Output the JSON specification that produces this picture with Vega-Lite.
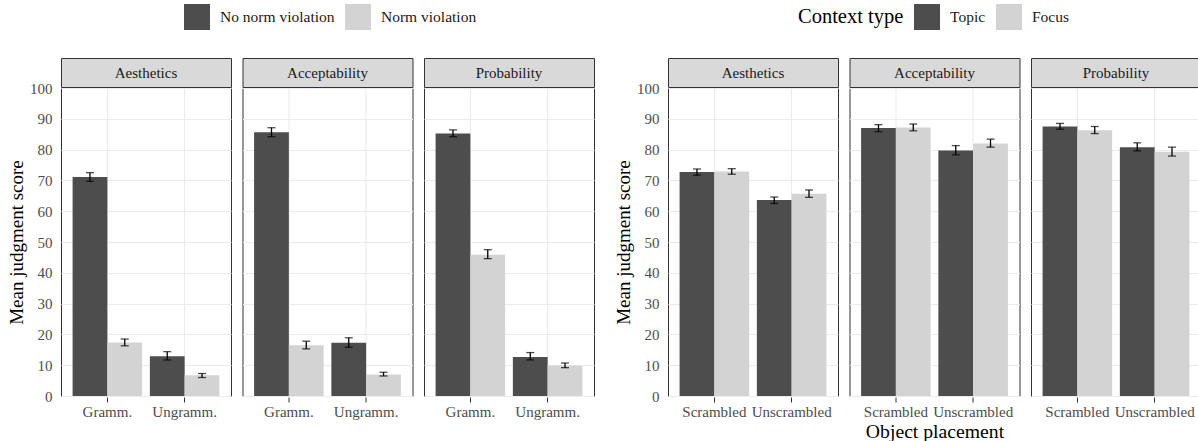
{
  "$schema": "https://vega.github.io/schema/vega-lite/v6.json",
  "padding": {"left": 7, "top": 4, "right": 0, "bottom": 0},
  "background": "white",
  "datasets": {
    "norm": [
      {"panel": "Aesthetics", "x": "Gramm.", "grp": "No norm violation", "mean": 71.1, "lo": 69.7, "hi": 72.5},
      {"panel": "Aesthetics", "x": "Gramm.", "grp": "Norm violation", "mean": 17.4, "lo": 16.3, "hi": 18.5},
      {"panel": "Aesthetics", "x": "Ungramm.", "grp": "No norm violation", "mean": 12.9, "lo": 11.7, "hi": 14.4},
      {"panel": "Aesthetics", "x": "Ungramm.", "grp": "Norm violation", "mean": 6.7, "lo": 6.0, "hi": 7.3},
      {"panel": "Acceptability", "x": "Gramm.", "grp": "No norm violation", "mean": 85.6, "lo": 84.2, "hi": 87.1},
      {"panel": "Acceptability", "x": "Gramm.", "grp": "Norm violation", "mean": 16.5, "lo": 15.3, "hi": 17.8},
      {"panel": "Acceptability", "x": "Ungramm.", "grp": "No norm violation", "mean": 17.3, "lo": 15.8, "hi": 18.9},
      {"panel": "Acceptability", "x": "Ungramm.", "grp": "Norm violation", "mean": 7.0, "lo": 6.5, "hi": 7.7},
      {"panel": "Probability", "x": "Gramm.", "grp": "No norm violation", "mean": 85.2, "lo": 84.2, "hi": 86.4},
      {"panel": "Probability", "x": "Gramm.", "grp": "Norm violation", "mean": 45.9, "lo": 44.6, "hi": 47.5},
      {"panel": "Probability", "x": "Ungramm.", "grp": "No norm violation", "mean": 12.7, "lo": 11.7, "hi": 14.1},
      {"panel": "Probability", "x": "Ungramm.", "grp": "Norm violation", "mean": 9.9, "lo": 9.2, "hi": 10.7}
    ],
    "context": [
      {"panel": "Aesthetics", "x": "Scrambled", "grp": "Topic", "mean": 72.7, "lo": 71.7, "hi": 73.7},
      {"panel": "Aesthetics", "x": "Scrambled", "grp": "Focus", "mean": 72.9, "lo": 72.0, "hi": 73.8},
      {"panel": "Aesthetics", "x": "Unscrambled", "grp": "Topic", "mean": 63.6, "lo": 62.5, "hi": 64.6},
      {"panel": "Aesthetics", "x": "Unscrambled", "grp": "Focus", "mean": 65.7, "lo": 64.5, "hi": 66.9},
      {"panel": "Acceptability", "x": "Scrambled", "grp": "Topic", "mean": 87.0, "lo": 85.8, "hi": 88.1},
      {"panel": "Acceptability", "x": "Scrambled", "grp": "Focus", "mean": 87.2, "lo": 86.1, "hi": 88.3},
      {"panel": "Acceptability", "x": "Unscrambled", "grp": "Topic", "mean": 79.7, "lo": 78.3, "hi": 81.3},
      {"panel": "Acceptability", "x": "Unscrambled", "grp": "Focus", "mean": 82.0, "lo": 80.8, "hi": 83.4},
      {"panel": "Probability", "x": "Scrambled", "grp": "Topic", "mean": 87.5, "lo": 86.6, "hi": 88.5},
      {"panel": "Probability", "x": "Scrambled", "grp": "Focus", "mean": 86.3, "lo": 85.2, "hi": 87.5},
      {"panel": "Probability", "x": "Unscrambled", "grp": "Topic", "mean": 80.8, "lo": 79.6, "hi": 82.2},
      {"panel": "Probability", "x": "Unscrambled", "grp": "Focus", "mean": 79.3, "lo": 77.9, "hi": 80.8}
    ],
    "panels": [
      {"panel": "Aesthetics"},
      {"panel": "Acceptability"},
      {"panel": "Probability"}
    ]
  },
  "hconcat": [
    {
      "spacing": -9,
      "vconcat": [
        {
          "data": {"name": "panels"},
          "facet": {"column": {"field": "panel", "sort": ["Aesthetics", "Acceptability", "Probability"], "header": {"title": null, "labels": false}}},
          "spacing": 9.5,
          "spec": {
            "width": 170,
            "height": 29,
            "view": {"fill": "#d9d9d9", "stroke": "#333333"},
            "mark": {"type": "text", "font": "Liberation Serif", "fontSize": 15, "color": "#1a1a1a", "baseline": "middle", "align": "center"},
            "encoding": {"text": {"field": "panel"}}
          }
        },
        {
          "data": {"name": "norm"},
          "facet": {"column": {"field": "panel", "sort": ["Aesthetics", "Acceptability", "Probability"], "header": {"title": null, "labels": false}}},
          "spacing": 9.5,
          "spec": {
            "width": 170,
            "height": 308,
            "encoding": {
              "x": {"field": "x", "type": "nominal",
                "scale": {"type": "band", "domain": ["Gramm.", "Ungramm."], "paddingInner": 0.1, "paddingOuter": 0.15},
                "axis": {"title": null}},
              "xOffset": {"field": "grp", "type": "nominal",
                "scale": {"type": "band", "domain": ["No norm violation", "Norm violation"], "paddingInner": 0, "paddingOuter": 0}},
              "y": {"field": "mean", "type": "quantitative", "scale": {"domain": [0, 100], "nice": false},
                "axis": {"title": "Mean judgment score"}}
            },
            "layer": [
              {"mark": {"type": "bar"},
               "encoding": {
                 "y": {"field": "mean", "type": "quantitative", "stack": null},
                 "color": {"field": "grp", "type": "nominal",
                 "scale": {"domain": ["No norm violation", "Norm violation"], "range": ["#4d4d4d", "#d3d3d3"]},
                 "legend": {"title": null, "orient": "none", "legendX": 123, "legendY": -54}}}},
              {"mark": {"type": "rule", "color": "black", "strokeWidth": 1.3},
               "encoding": {"y": {"field": "lo", "type": "quantitative"}, "y2": {"field": "hi"}}},
              {"mark": {"type": "tick", "orient": "horizontal", "color": "black", "size": 8, "thickness": 1.3},
               "encoding": {"y": {"field": "lo", "type": "quantitative"}}},
              {"mark": {"type": "tick", "orient": "horizontal", "color": "black", "size": 8, "thickness": 1.3},
               "encoding": {"y": {"field": "hi", "type": "quantitative"}}}
            ]
          }
        }
      ]
    },
    {
      "spacing": -9,
      "vconcat": [
        {
          "data": {"name": "panels"},
          "facet": {"column": {"field": "panel", "sort": ["Aesthetics", "Acceptability", "Probability"], "header": {"title": null, "labels": false}}},
          "spacing": 9.5,
          "spec": {
            "width": 170,
            "height": 29,
            "view": {"fill": "#d9d9d9", "stroke": "#333333"},
            "mark": {"type": "text", "font": "Liberation Serif", "fontSize": 15, "color": "#1a1a1a", "baseline": "middle", "align": "center"},
            "encoding": {"text": {"field": "panel"}}
          }
        },
        {
          "data": {"name": "context"},
          "facet": {"column": {"field": "panel", "sort": ["Aesthetics", "Acceptability", "Probability"],
            "header": {"title": "Object placement", "titleOrient": "bottom", "labels": false, "titlePadding": -7,
              "titleFont": "Liberation Serif", "titleFontSize": 19.7, "titleFontWeight": "normal", "titleColor": "#000000"}}},
          "spacing": 9.5,
          "spec": {
            "width": 170,
            "height": 308,
            "encoding": {
              "x": {"field": "x", "type": "nominal",
                "scale": {"type": "band", "domain": ["Scrambled", "Unscrambled"], "paddingInner": 0.1, "paddingOuter": 0.15},
                "axis": {"title": null}},
              "xOffset": {"field": "grp", "type": "nominal",
                "scale": {"type": "band", "domain": ["Topic", "Focus"], "paddingInner": 0, "paddingOuter": 0}},
              "y": {"field": "mean", "type": "quantitative", "scale": {"domain": [0, 100], "nice": false},
                "axis": {"title": "Mean judgment score"}}
            },
            "layer": [
              {"mark": {"type": "bar"},
               "encoding": {
                 "y": {"field": "mean", "type": "quantitative", "stack": null},
                 "color": {"field": "grp", "type": "nominal",
                 "scale": {"domain": ["Topic", "Focus"], "range": ["#4d4d4d", "#d3d3d3"]},
                 "legend": {"title": "Context type", "orient": "none", "legendX": 130, "legendY": -54}}}},
              {"mark": {"type": "rule", "color": "black", "strokeWidth": 1.3},
               "encoding": {"y": {"field": "lo", "type": "quantitative"}, "y2": {"field": "hi"}}},
              {"mark": {"type": "tick", "orient": "horizontal", "color": "black", "size": 8, "thickness": 1.3},
               "encoding": {"y": {"field": "lo", "type": "quantitative"}}},
              {"mark": {"type": "tick", "orient": "horizontal", "color": "black", "size": 8, "thickness": 1.3},
               "encoding": {"y": {"field": "hi", "type": "quantitative"}}}
            ]
          }
        }
      ]
    }
  ],
  "spacing": 19,
  "resolve": {"scale": {"color": "independent", "xOffset": "independent"}, "legend": {"color": "independent"}},
  "config": {
    "font": "Liberation Serif",
    "view": {"stroke": "#333333", "strokeWidth": 1},
    "header": {"labelPadding": 0, "titlePadding": 0},
    "axis": {
      "labelFont": "Liberation Serif",
      "titleFont": "Liberation Serif",
      "labelColor": "#4d4d4d",
      "labelFontSize": 15,
      "titleFontSize": 19,
      "titleFontWeight": "normal",
      "titleColor": "#000000",
      "tickColor": "#333333",
      "tickSize": 5,
      "domain": false,
      "gridColor": "#ebebeb"
    },
    "axisY": {
      "values": [0, 5, 10, 15, 20, 25, 30, 35, 40, 45, 50, 55, 60, 65, 70, 75, 80, 85, 90, 95, 100],
      "labelExpr": "datum.value % 10 === 0 ? datum.label : ''",
      "tickOpacity": {"condition": {"test": "datum.value % 10 === 0", "value": 1}, "value": 0},
      "gridWidth": {"condition": {"test": "datum.value % 10 === 0", "value": 1.1}, "value": 0.55},
      "grid": true,
      "labelPadding": 3,
      "titlePadding": 3
    },
    "axisX": {
      "grid": true,
      "gridWidth": 1.1,
      "bandPosition": 0.5,
      "labelAngle": 0,
      "labelPadding": 2
    },
    "legend": {
      "direction": "horizontal",
      "symbolType": "square",
      "symbolSize": 676,
      "symbolStrokeWidth": 0,
      "labelFont": "Liberation Serif",
      "labelFontSize": 15.5,
      "labelColor": "#1a1a1a",
      "labelOffset": 10,
      "columnPadding": 10,
      "titleFont": "Liberation Serif",
      "titleFontSize": 20.5,
      "titleFontWeight": "normal",
      "titleColor": "#000000",
      "titleOrient": "left",
      "titlePadding": 10,
      "titleBaseline": "middle"
    }
  }
}
